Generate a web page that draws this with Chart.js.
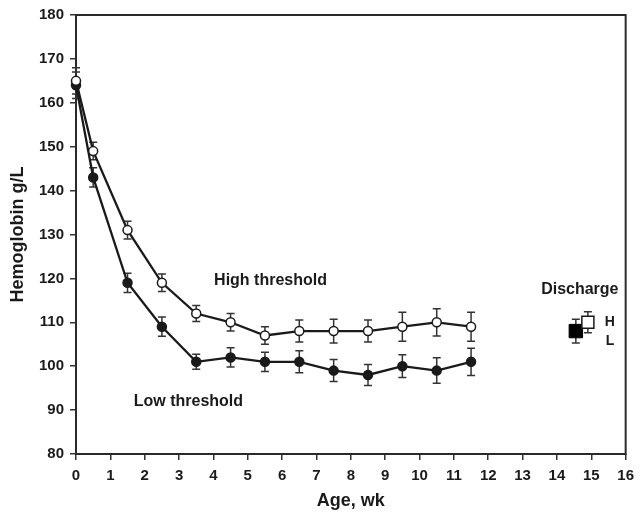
<!DOCTYPE html>
<html>
<head>
<meta charset="utf-8">
<script src="https://cdn.jsdelivr.net/npm/chart.js@4.4.1/dist/chart.umd.min.js"></script>
<style>
  html, body { margin: 0; padding: 0; background: #fff; }
  canvas { display: block; }
</style>
</head>
<body>
<canvas id="hbChart" width="641" height="512"></canvas>
<script>
// Hemoglobin by age, two transfusion thresholds (mean +/- SE)
const weeks = [0, 0.5, 1.5, 2.5, 3.5, 4.5, 5.5, 6.5, 7.5, 8.5, 9.5, 10.5, 11.5];
const highHb = [165, 149, 131, 119, 112, 110, 107, 108, 108, 108, 109, 110, 109];
const highErr = [3, 2, 2, 2, 1.8, 2, 2, 2.5, 2.7, 2.5, 3.3, 3.1, 3.3];
const lowHb = [164, 143, 119, 109, 101, 102, 101, 101, 99, 98, 100, 99, 101];
const lowErr = [3, 2.2, 2.2, 2.2, 1.7, 2.2, 2.2, 2.5, 2.5, 2.4, 2.6, 2.9, 3.1];

// Discharge values: [low, high]
const dischargeWeek = [14.55, 14.9];
const dischargeHb = [108, 110];
const dischargeErr = [2.7, 2.4];

const xTicks = [0, 1, 2, 3, 4, 5, 6, 7, 8, 9, 10, 11, 12, 13, 14, 15, 16];
const yTicks = [80, 90, 100, 110, 120, 130, 140, 150, 160, 170, 180];

// text notes and where they sit (in data units)
const noteText = ['High threshold', 'Low threshold', 'Discharge', 'H', 'L'];
const notePos = [[4.02, 119.6], [1.68, 92], [13.54, 117.5], [15.39, 110.1], [15.42, 105.7]];

const ink = '#1a1a1a';
Chart.defaults.font.family = '"Liberation Sans", Arial, sans-serif';
Chart.defaults.font.weight = 'bold';
Chart.defaults.color = ink;

const toPoints = (xs, ys) => xs.map((x, i) => ({ x: x, y: ys[i] }));

// frame round the plot and the error bars, under the markers
const frameAndBars = {
    id: 'frameAndBars',
    beforeDatasetsDraw(chart) {
        const { ctx, chartArea: a, scales: { x, y } } = chart;
        ctx.save();
        ctx.strokeStyle = '#2a2a2a';
        ctx.lineWidth = 2;
        ctx.strokeRect(a.left, a.top, a.right - a.left, a.bottom - a.top);

        ctx.strokeStyle = '#333';
        ctx.lineWidth = 1.5;
        chart.data.datasets.forEach(ds => {
            if (!ds.errors) return;
            ds.data.forEach((pt, i) => {
                const px = x.getPixelForValue(pt.x);
                const top = y.getPixelForValue(pt.y + ds.errors[i]);
                const bot = y.getPixelForValue(pt.y - ds.errors[i]);
                ctx.beginPath();
                ctx.moveTo(px, top); ctx.lineTo(px, bot);
                ctx.moveTo(px - 4, top); ctx.lineTo(px + 4, top);
                ctx.moveTo(px - 4, bot); ctx.lineTo(px + 4, bot);
                ctx.stroke();
            });
        });
        ctx.restore();
    }
};

const notes = {
    id: 'notes',
    afterDraw(chart) {
        const { ctx, scales: { x, y } } = chart;
        ctx.save();
        ctx.fillStyle = ink;
        ctx.textAlign = 'left';
        ctx.textBaseline = 'middle';
        noteText.forEach((t, i) => {
            ctx.font = (t.length === 1 ? 'bold 14px ' : 'bold 16px ') + '"Liberation Sans", Arial, sans-serif';
            ctx.fillText(t, x.getPixelForValue(notePos[i][0]), y.getPixelForValue(notePos[i][1]));
        });
        ctx.restore();
    }
};

new Chart(document.getElementById('hbChart'), {
    type: 'scatter',
    data: {
        datasets: [
            {
                label: 'High threshold',
                data: toPoints(weeks, highHb),
                errors: highErr,
                showLine: true,
                borderColor: ink,
                borderWidth: 2.3,
                pointRadius: 4.5,
                pointBorderWidth: 1.5,
                pointBackgroundColor: '#fff',
                pointBorderColor: ink,
                clip: false
            },
            {
                label: 'Low threshold',
                data: toPoints(weeks, lowHb),
                errors: lowErr,
                showLine: true,
                borderColor: ink,
                borderWidth: 2.3,
                pointRadius: 4.5,
                pointBorderWidth: 1.5,
                pointBackgroundColor: ink,
                pointBorderColor: ink,
                clip: false
            },
            {
                label: 'Discharge H',
                data: [{ x: dischargeWeek[1], y: dischargeHb[1] }],
                errors: [dischargeErr[1]],
                pointStyle: 'rect',
                pointRadius: 8.5,
                pointBorderWidth: 1.5,
                pointBackgroundColor: '#fff',
                pointBorderColor: ink,
                order: 0
            },
            {
                label: 'Discharge L',
                data: [{ x: dischargeWeek[0], y: dischargeHb[0] }],
                errors: [dischargeErr[0]],
                pointStyle: 'rect',
                pointRadius: 9.5,
                pointBorderWidth: 1,
                pointBackgroundColor: '#000',
                pointBorderColor: '#000',
                order: 1
            }
        ]
    },
    options: {
        responsive: false,
        animation: false,
        devicePixelRatio: 1,
        layout: { padding: { top: 15, right: 12, bottom: 0, left: 0 } },
        plugins: { legend: { display: false }, tooltip: { enabled: false } },
        scales: {
            x: {
                type: 'linear',
                min: 0,
                max: 16,
                afterBuildTicks: s => { s.ticks = xTicks.map(v => ({ value: v })); },
                afterFit: s => { s.height = 58; },
                border: { display: false },
                grid: { drawOnChartArea: false, tickLength: 6, color: '#333', lineWidth: 1.5 },
                ticks: { padding: 7, font: { size: 15, weight: 'bold' }, color: ink },
                title: { display: true, text: 'Age, wk', font: { size: 18, weight: 'bold' }, color: ink, padding: { top: 0, bottom: 0 } }
            },
            y: {
                min: 80,
                max: 180,
                afterBuildTicks: s => { s.ticks = yTicks.map(v => ({ value: v })); },
                afterFit: s => { s.width = 76; },
                border: { display: false },
                grid: { drawOnChartArea: false, tickLength: 6, color: '#333', lineWidth: 1.5 },
                ticks: { padding: 6, font: { size: 15, weight: 'bold' }, color: ink },
                title: { display: true, text: 'Hemoglobin g/L', font: { size: 18, weight: 'bold' }, color: ink, padding: { top: 7, bottom: 0 } }
            }
        }
    },
    plugins: [frameAndBars, notes]
});
</script>
</body>
</html>
